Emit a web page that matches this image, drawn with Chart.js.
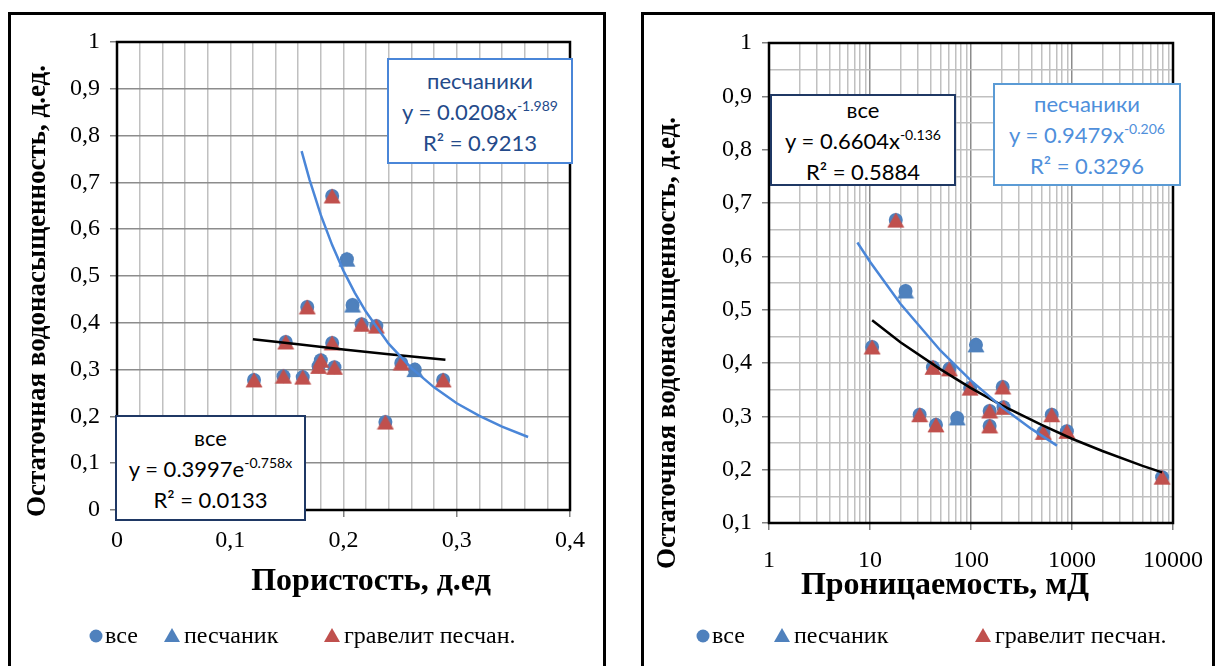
<!DOCTYPE html>
<html>
<head>
<meta charset="utf-8">
<script src="https://cdn.jsdelivr.net/npm/chart.js@4.4.1/dist/chart.umd.min.js"></script>
<style>
  body { margin: 0; background: #fff; width: 1219px; height: 666px; overflow: hidden; position: relative; font-family: "Liberation Serif", "Times New Roman", serif; }
  .frame { position: absolute; top: 12px; height: 720px; border: 3px solid #000; box-sizing: border-box; }
  .wrap { position: absolute; top: 0; height: 666px; }
  .eq { position: absolute; background: #fff; border: 2px solid; box-sizing: border-box; font-family: Lato, "Open Sans", sans-serif; font-size: 22px; text-align: center; display: flex; flex-direction: column; justify-content: center; line-height: 31px; z-index: 5; }
  .eq sup { font-size: 14px; vertical-align: 9px; line-height: 0; }
  .lg { position: absolute; top: 621px; font-size: 24px; white-space: nowrap; line-height: 28px; z-index: 5; }
  .lg svg { position: absolute; }
</style>
</head>
<body>
<div class="frame" style="left:8px; width:598px;"></div>
<div class="frame" style="left:641px; width:574px;"></div>

<div class="wrap" style="left:0; width:620px;"><canvas id="porChart"></canvas></div>
<div class="wrap" style="left:620px; width:599px;"><canvas id="permChart"></canvas></div>

<div class="eq" style="left:387px; top:58px; width:186px; height:106px; border-color:#4a86d8; color:#244a8a;">
  <div>песчаники</div>
  <div>y = 0.0208x<sup>-1.989</sup></div>
  <div>R² = 0.9213</div>
</div>
<div class="eq" style="left:115px; top:415px; width:191px; height:106px; border-color:#1f3864; color:#000;">
  <div>все</div>
  <div>y = 0.3997e<sup>-0.758x</sup></div>
  <div>R² = 0.0133</div>
</div>
<div class="eq" style="left:770px; top:94px; width:186px; height:92px; border-color:#1f3864; color:#000;">
  <div>все</div>
  <div>y = 0.6604x<sup>-0.136</sup></div>
  <div>R² = 0.5884</div>
</div>
<div class="eq" style="left:993px; top:83px; width:188px; height:103px; border-color:#5b9bd5; color:#4f8fdb;">
  <div>песчаники</div>
  <div>y = 0.9479x<sup>-0.206</sup></div>
  <div>R² = 0.3296</div>
</div>

<!-- legends -->
<div class="lg" style="left:89px;"><svg width="14" height="14" style="left:0; top:8px;"><circle cx="7" cy="7" r="6.5" fill="#4f81bd"/></svg><span style="margin-left:16px;">все</span></div>
<div class="lg" style="left:163px;"><svg width="18" height="16" style="left:0; top:6px;"><path d="M9 1 L17 15 L1 15 Z" fill="#4f81bd"/></svg><span style="margin-left:21px;">песчаник</span></div>
<div class="lg" style="left:323px;"><svg width="18" height="16" style="left:0; top:6px;"><path d="M9 1 L17 15 L1 15 Z" fill="#c0504d"/></svg><span style="margin-left:21px;">гравелит песчан.</span></div>

<div class="lg" style="left:696px;"><svg width="14" height="14" style="left:0; top:8px;"><circle cx="7" cy="7" r="6.5" fill="#4f81bd"/></svg><span style="margin-left:16px;">все</span></div>
<div class="lg" style="left:773px;"><svg width="18" height="16" style="left:0; top:6px;"><path d="M9 1 L17 15 L1 15 Z" fill="#4f81bd"/></svg><span style="margin-left:21px;">песчаник</span></div>
<div class="lg" style="left:974px;"><svg width="18" height="16" style="left:0; top:6px;"><path d="M9 1 L17 15 L1 15 Z" fill="#c0504d"/></svg><span style="margin-left:21px;">гравелит песчан.</span></div>

<script>
// Porosity chart data (пористость, д.ед / остаточная водонасыщенность)
const porSand = [0.203, 0.208, 0.263];
const satSandP = [0.536, 0.438, 0.300];
const porGrav = [0.121, 0.147, 0.164, 0.149, 0.168, 0.190, 0.190, 0.180, 0.178, 0.192, 0.216, 0.229, 0.251, 0.237, 0.288];
const satGravP = [0.278, 0.286, 0.284, 0.359, 0.434, 0.671, 0.357, 0.320, 0.307, 0.305, 0.397, 0.393, 0.314, 0.188, 0.278];

// trend lines
const trendSandPx = [0.163, 0.17, 0.18, 0.19, 0.20, 0.21, 0.22, 0.24, 0.26, 0.28, 0.30, 0.32, 0.34, 0.363];
const trendSandPy = [0.767, 0.706, 0.630, 0.566, 0.511, 0.464, 0.423, 0.355, 0.303, 0.262, 0.228, 0.201, 0.178, 0.156];
const trendAllPx = [0.12, 0.16, 0.20, 0.24, 0.29];
const trendAllPy = [0.365, 0.354, 0.343, 0.333, 0.321];

// Permeability chart data (проницаемость, мД)
const permSand = [22.5, 112, 73];
const satSandK = [0.535, 0.434, 0.297];
const permGrav = [10.5, 18, 31, 42, 45, 61, 98, 153, 153, 206, 210, 520, 630, 890, 7800];
const satGravK = [0.430, 0.668, 0.303, 0.392, 0.284, 0.389, 0.353, 0.310, 0.282, 0.355, 0.317, 0.270, 0.303, 0.272, 0.186];

const trendSandKx = [7.5, 10, 20, 50, 100, 200, 400, 710];
const trendSandKy = [0.626, 0.590, 0.511, 0.423, 0.367, 0.318, 0.276, 0.245];
const trendAllKx = [10.5, 20, 50, 100, 200, 500, 1000, 2000, 5000, 7800];
const trendAllKy = [0.480, 0.439, 0.388, 0.353, 0.321, 0.284, 0.258, 0.235, 0.207, 0.195];

// axis labels
const permDecades = [1, 10, 100, 1000, 10000];

const pts = (xs, ys) => xs.map((x, i) => ({ x: x, y: ys[i] }));
const fmt = v => {
    const r = Math.round(v * 10) / 10;
    if (r === 0) return '0';
    if (r === 1) return '1';
    return r.toFixed(1).replace('.', ',');
};

function triMarker(color) {
    const c = document.createElement('canvas');
    c.width = 18; c.height = 17;
    const g = c.getContext('2d');
    g.fillStyle = color;
    g.beginPath();
    g.moveTo(9, 1); g.lineTo(17.5, 16); g.lineTo(0.5, 16);
    g.closePath();
    g.fill();
    return c;
}
const triBlue = triMarker('#4f81bd');
const triRed = triMarker('#c0504d');

// plot border + axis titles at fixed spots
const frameAndTitles = {
    id: 'frameAndTitles',
    afterDraw(chart, args, opts) {
        const { ctx, chartArea: a } = chart;
        ctx.save();
        ctx.strokeStyle = '#000';
        ctx.lineWidth = 2.5;
        ctx.strokeRect(a.left, a.top, a.right - a.left, a.bottom - a.top);
        ctx.fillStyle = '#000';
        ctx.textAlign = 'center';
        ctx.textBaseline = 'middle';
        ctx.font = 'bold 32px "Liberation Serif"';
        ctx.fillText(opts.xTitle, opts.xAt[0], opts.xAt[1]);
        ctx.translate(opts.yAt[0], opts.yAt[1]);
        ctx.rotate(-Math.PI / 2);
        ctx.font = 'bold 27px "Liberation Serif"';
        ctx.fillText(opts.yTitle, 0, 0);
        ctx.restore();
    }
};

const tickFont = { family: 'Liberation Serif', size: 24 };

function datasets(sx, sy, gx, gy, tsx, tsy, tax, tay) {
    const all = pts(sx, sy).concat(pts(gx, gy));
    return [
        { label: 'тренд песчаники', data: pts(tsx, tsy), showLine: true, borderColor: '#4a86d8', borderWidth: 2.5, pointRadius: 0, order: 0 },
        { label: 'тренд все', data: pts(tax, tay), showLine: true, borderColor: '#000', borderWidth: 2.5, pointRadius: 0, order: 0 },
        { label: 'песчаник', data: pts(sx, sy), pointStyle: triBlue, pointRadius: 8, order: 1 },
        { label: 'гравелит песчан.', data: pts(gx, gy), pointStyle: triRed, pointRadius: 8, order: 2 },
        { label: 'все', data: all, pointStyle: 'circle', pointRadius: 7, backgroundColor: '#4f81bd', borderWidth: 0, order: 3 }
    ];
}

// Left chart: porosity
new Chart(document.getElementById('porChart'), {
    type: 'scatter',
    data: { datasets: datasets(porSand, satSandP, porGrav, satGravP, trendSandPx, trendSandPy, trendAllPx, trendAllPy) },
    options: {
        responsive: true,
        maintainAspectRatio: false,
        animation: false,
        layout: { padding: { left: 0, top: 42, right: 50, bottom: 0 } },
        plugins: {
            legend: { display: false },
            tooltip: { enabled: false },
            frameAndTitles: { xTitle: 'Пористость, д.ед', xAt: [371, 582], yTitle: 'Остаточная водонасыщенность, д.ед.', yAt: [38, 291] }
        },
        scales: {
            x: {
                type: 'linear', min: 0, max: 0.4,
                afterFit: s => { s.height = 156; },
                ticks: { stepSize: 0.02, autoSkip: false, maxRotation: 0, padding: 9, color: '#000', font: tickFont,
                    callback: (v, i) => i % 5 === 0 ? fmt(v) : '' },
                grid: { color: '#c0c0c0', lineWidth: 1.5, tickLength: 7,
                    tickColor: c => c.index % 5 === 0 ? '#808080' : 'rgba(0,0,0,0)' },
                border: { display: false }
            },
            y: {
                type: 'linear', min: 0, max: 1,
                afterFit: s => { s.width = 117; },
                ticks: { stepSize: 0.1, padding: 10, color: '#000', font: tickFont, callback: v => fmt(v) },
                grid: { color: '#8c8c8c', lineWidth: 1.5, tickLength: 7, tickColor: '#808080' },
                border: { display: false }
            }
        }
    },
    plugins: [frameAndTitles]
});

// Right chart: permeability (log x)
new Chart(document.getElementById('permChart'), {
    type: 'scatter',
    data: { datasets: datasets(permSand, satSandK, permGrav, satGravK, trendSandKx, trendSandKy, trendAllKx, trendAllKy) },
    options: {
        responsive: true,
        maintainAspectRatio: false,
        animation: false,
        layout: { padding: { left: 0, top: 43, right: 42, bottom: 0 } },
        plugins: {
            legend: { display: false },
            tooltip: { enabled: false },
            frameAndTitles: { xTitle: 'Проницаемость, мД', xAt: [325, 586], yTitle: 'Остаточная водонасыщенность, д.ед.', yAt: [48, 343] }
        },
        scales: {
            x: {
                type: 'logarithmic', min: 1, max: 10000,
                afterFit: s => { s.height = 143; },
                afterBuildTicks: s => {
                    const t = [];
                    permDecades.forEach((d, k) => {
                        if (k === permDecades.length - 1) { t.push({ value: d }); return; }
                        for (let m = 1; m < 10; m++) t.push({ value: d * m });
                    });
                    s.ticks = t;
                },
                ticks: { autoSkip: false, maxRotation: 0, padding: 16, color: '#000', font: tickFont,
                    callback: v => permDecades.includes(v) ? String(v) : '' },
                grid: { lineWidth: 1.5, tickLength: 7,
                    color: c => permDecades.includes(c.tick && c.tick.value) ? '#8c8c8c' : '#c0c0c0',
                    tickColor: c => permDecades.includes(c.tick && c.tick.value) ? '#808080' : 'rgba(0,0,0,0)' },
                border: { display: false }
            },
            y: {
                type: 'linear', min: 0.1, max: 1,
                afterFit: s => { s.width = 149; },
                ticks: { stepSize: 0.05, autoSkip: false, padding: 10, color: '#000', font: tickFont,
                    callback: (v, i) => i % 2 === 0 ? fmt(v) : '' },
                grid: { color: '#c0c0c0', lineWidth: 1.5, tickLength: 7,
                    tickColor: c => c.index % 2 === 0 ? '#808080' : 'rgba(0,0,0,0)' },
                border: { display: false }
            }
        }
    },
    plugins: [frameAndTitles]
});
</script>
</body>
</html>
